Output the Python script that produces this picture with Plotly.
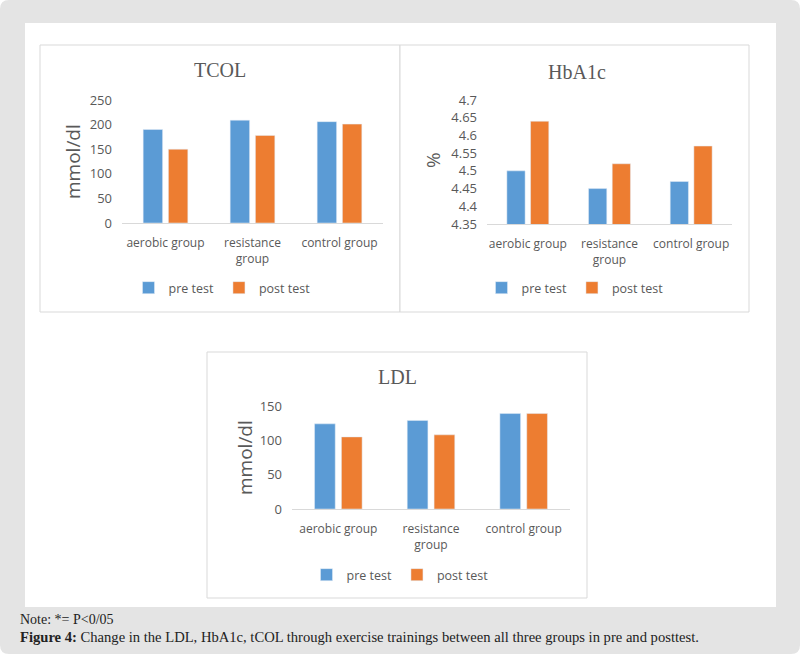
import plotly.graph_objects as go

# data
groups = ["aerobic group", "resistance group", "control group"]
group_ticks = ["aerobic group", "resistance<br>group", "control group"]
series_names = ["pre test", "post test"]

tcol_pre = [190, 209, 206]
tcol_post = [150, 178, 201]
hba1c_pre = [4.50, 4.45, 4.47]
hba1c_post = [4.64, 4.52, 4.57]
ldl_pre = [124, 129, 139]
ldl_post = [105, 108, 139]

tcol_ticks = [0, 50, 100, 150, 200, 250]
hba1c_ticks = [4.35, 4.4, 4.45, 4.5, 4.55, 4.6, 4.65, 4.7]
hba1c_ticktext = ["4.35", "4.4", "4.45", "4.5", "4.55", "4.6", "4.65", "4.7"]
ldl_ticks = [0, 50, 100, 150]

W, H = 800, 654
BLUE, ORANGE = "#5b9bd5", "#ed7d31"
GRAY_TXT = "#595959"
SANS = "Open Sans"


def px_x(a, b):
    return [a / W, b / W]


def px_y(top, bottom):
    return [1 - bottom / H, 1 - top / H]


fig = go.Figure()

panels = [
    ("x", "y", "legend", tcol_pre, tcol_post),
    ("x2", "y2", "legend2", hba1c_pre, hba1c_post),
    ("x3", "y3", "legend3", ldl_pre, ldl_post),
]
for xa, ya, lg, pre, post in panels:
    for name, vals, col in [(series_names[0], pre, BLUE), (series_names[1], post, ORANGE)]:
        fig.add_trace(go.Bar(
            x=groups, y=vals, name=name, marker_color=col,
            xaxis=xa, yaxis=ya, legend=lg, hoverinfo="x+y",
        ))

xcommon = dict(
    type="category", tickvals=groups, ticktext=group_ticks,
    showline=True, linecolor="#d9d9d9", linewidth=1, showgrid=False,
    ticks="", ticklabelstandoff=9, fixedrange=True, automargin=False,
    tickfont=dict(family=SANS, size=12, color=GRAY_TXT),
)
ycommon = dict(
    showline=False, showgrid=False, zeroline=False, ticks="",
    ticklabelstandoff=9, fixedrange=True, automargin=False,
    tickfont=dict(family=SANS, size=13, color=GRAY_TXT),
)

fig.update_layout(
    width=W, height=H, autosize=False,
    margin=dict(t=0, b=0, l=0, r=0, pad=0, autoexpand=False),
    paper_bgcolor="white", plot_bgcolor="rgba(0,0,0,0)",
    barmode="group", bargap=0.42, bargroupgap=0.23,
    xaxis=dict(xcommon, domain=px_x(122, 383), anchor="y"),
    yaxis=dict(ycommon, domain=px_y(100, 223), range=[0, 250], tickvals=tcol_ticks, anchor="x"),
    xaxis2=dict(xcommon, domain=px_x(487, 732), anchor="y2"),
    yaxis2=dict(ycommon, domain=px_y(100, 224), range=[4.35, 4.7],
                tickvals=hba1c_ticks, ticktext=hba1c_ticktext, anchor="x2"),
    xaxis3=dict(xcommon, domain=px_x(292, 570), anchor="y3"),
    yaxis3=dict(ycommon, domain=px_y(406, 509), range=[0, 150], tickvals=ldl_ticks, anchor="x3"),
)

leg = dict(orientation="h", xanchor="center", yanchor="middle",
           font=dict(family=SANS, size=12.5, color=GRAY_TXT),
           bgcolor="rgba(0,0,0,0)", itemwidth=30, itemclick=False, itemdoubleclick=False)
fig.update_layout(
    legend=dict(leg, x=222 / W, y=1 - 288 / H),
    legend2=dict(leg, x=575 / W, y=1 - 288 / H),
    legend3=dict(leg, x=400 / W, y=1 - 575 / H),
)

# background: grey rounded card, white panel and chart boxes
rx, ry = 9 / W, 9 / H
card = (f"M {rx},0 L {1 - rx},0 Q 1,0 1,{ry} L 1,{1 - ry} Q 1,1 {1 - rx},1 "
        f"L {rx},1 Q 0,1 0,{1 - ry} L 0,{ry} Q 0,0 {rx},0 Z")
shapes = [
    dict(type="path", path=card, xref="paper", yref="paper",
         fillcolor="#e4e4e4", line=dict(width=0), layer="below"),
    dict(type="rect", xref="paper", yref="paper", x0=25 / W, x1=776 / W,
         y0=1 - 607 / H, y1=1 - 23 / H, fillcolor="white", line=dict(width=0), layer="below"),
]
for (l, t, r, b) in [(40, 45, 400, 312), (400, 45, 749, 312), (207, 352, 587, 598)]:
    shapes.append(dict(type="rect", xref="paper", yref="paper", x0=l / W, x1=r / W,
                       y0=1 - b / H, y1=1 - t / H, fillcolor="white",
                       line=dict(color="#d9d9d9", width=1), layer="below"))
fig.update_layout(shapes=shapes)

annots = []
for text, x, y in [("TCOL", 220, 70), ("HbA1c", 577, 72), ("LDL", 397, 377)]:
    annots.append(dict(text=text, x=x / W, y=1 - y / H, xref="paper", yref="paper",
                       showarrow=False, xanchor="center", yanchor="middle",
                       font=dict(family="Liberation Serif", size=20, color=GRAY_TXT)))
for text, x, y in [("mmol/dl", 73, 162), ("%", 433, 160), ("mmol/dl", 245, 458)]:
    annots.append(dict(text=text, x=x / W, y=1 - y / H, xref="paper", yref="paper",
                       showarrow=False, textangle=-90, xanchor="center", yanchor="middle",
                       font=dict(family=SANS, size=19, color=GRAY_TXT)))
annots.append(dict(text="Note: *= P<0/05", x=18 / W, y=1 - 619 / H, xref="paper", yref="paper",
                   showarrow=False, xanchor="left", yanchor="middle",
                   font=dict(family="Liberation Serif", size=14, color="#222222")))
annots.append(dict(text="<b>Figure 4:</b> Change in the LDL, HbA1c, tCOL through exercise trainings "
                        "between all three groups in pre and posttest.",
                   x=18 / W, y=1 - 637 / H, xref="paper", yref="paper",
                   showarrow=False, xanchor="left", yanchor="middle",
                   font=dict(family="Liberation Serif", size=14.6, color="#222222")))
fig.update_layout(annotations=annots)

# drop the browser's default page margin so the figure sits at the window corner
fig.write_html("out.html", config={"displayModeBar": False},
               post_script="document.body.style.margin='0';document.documentElement.style.overflow='hidden';")
